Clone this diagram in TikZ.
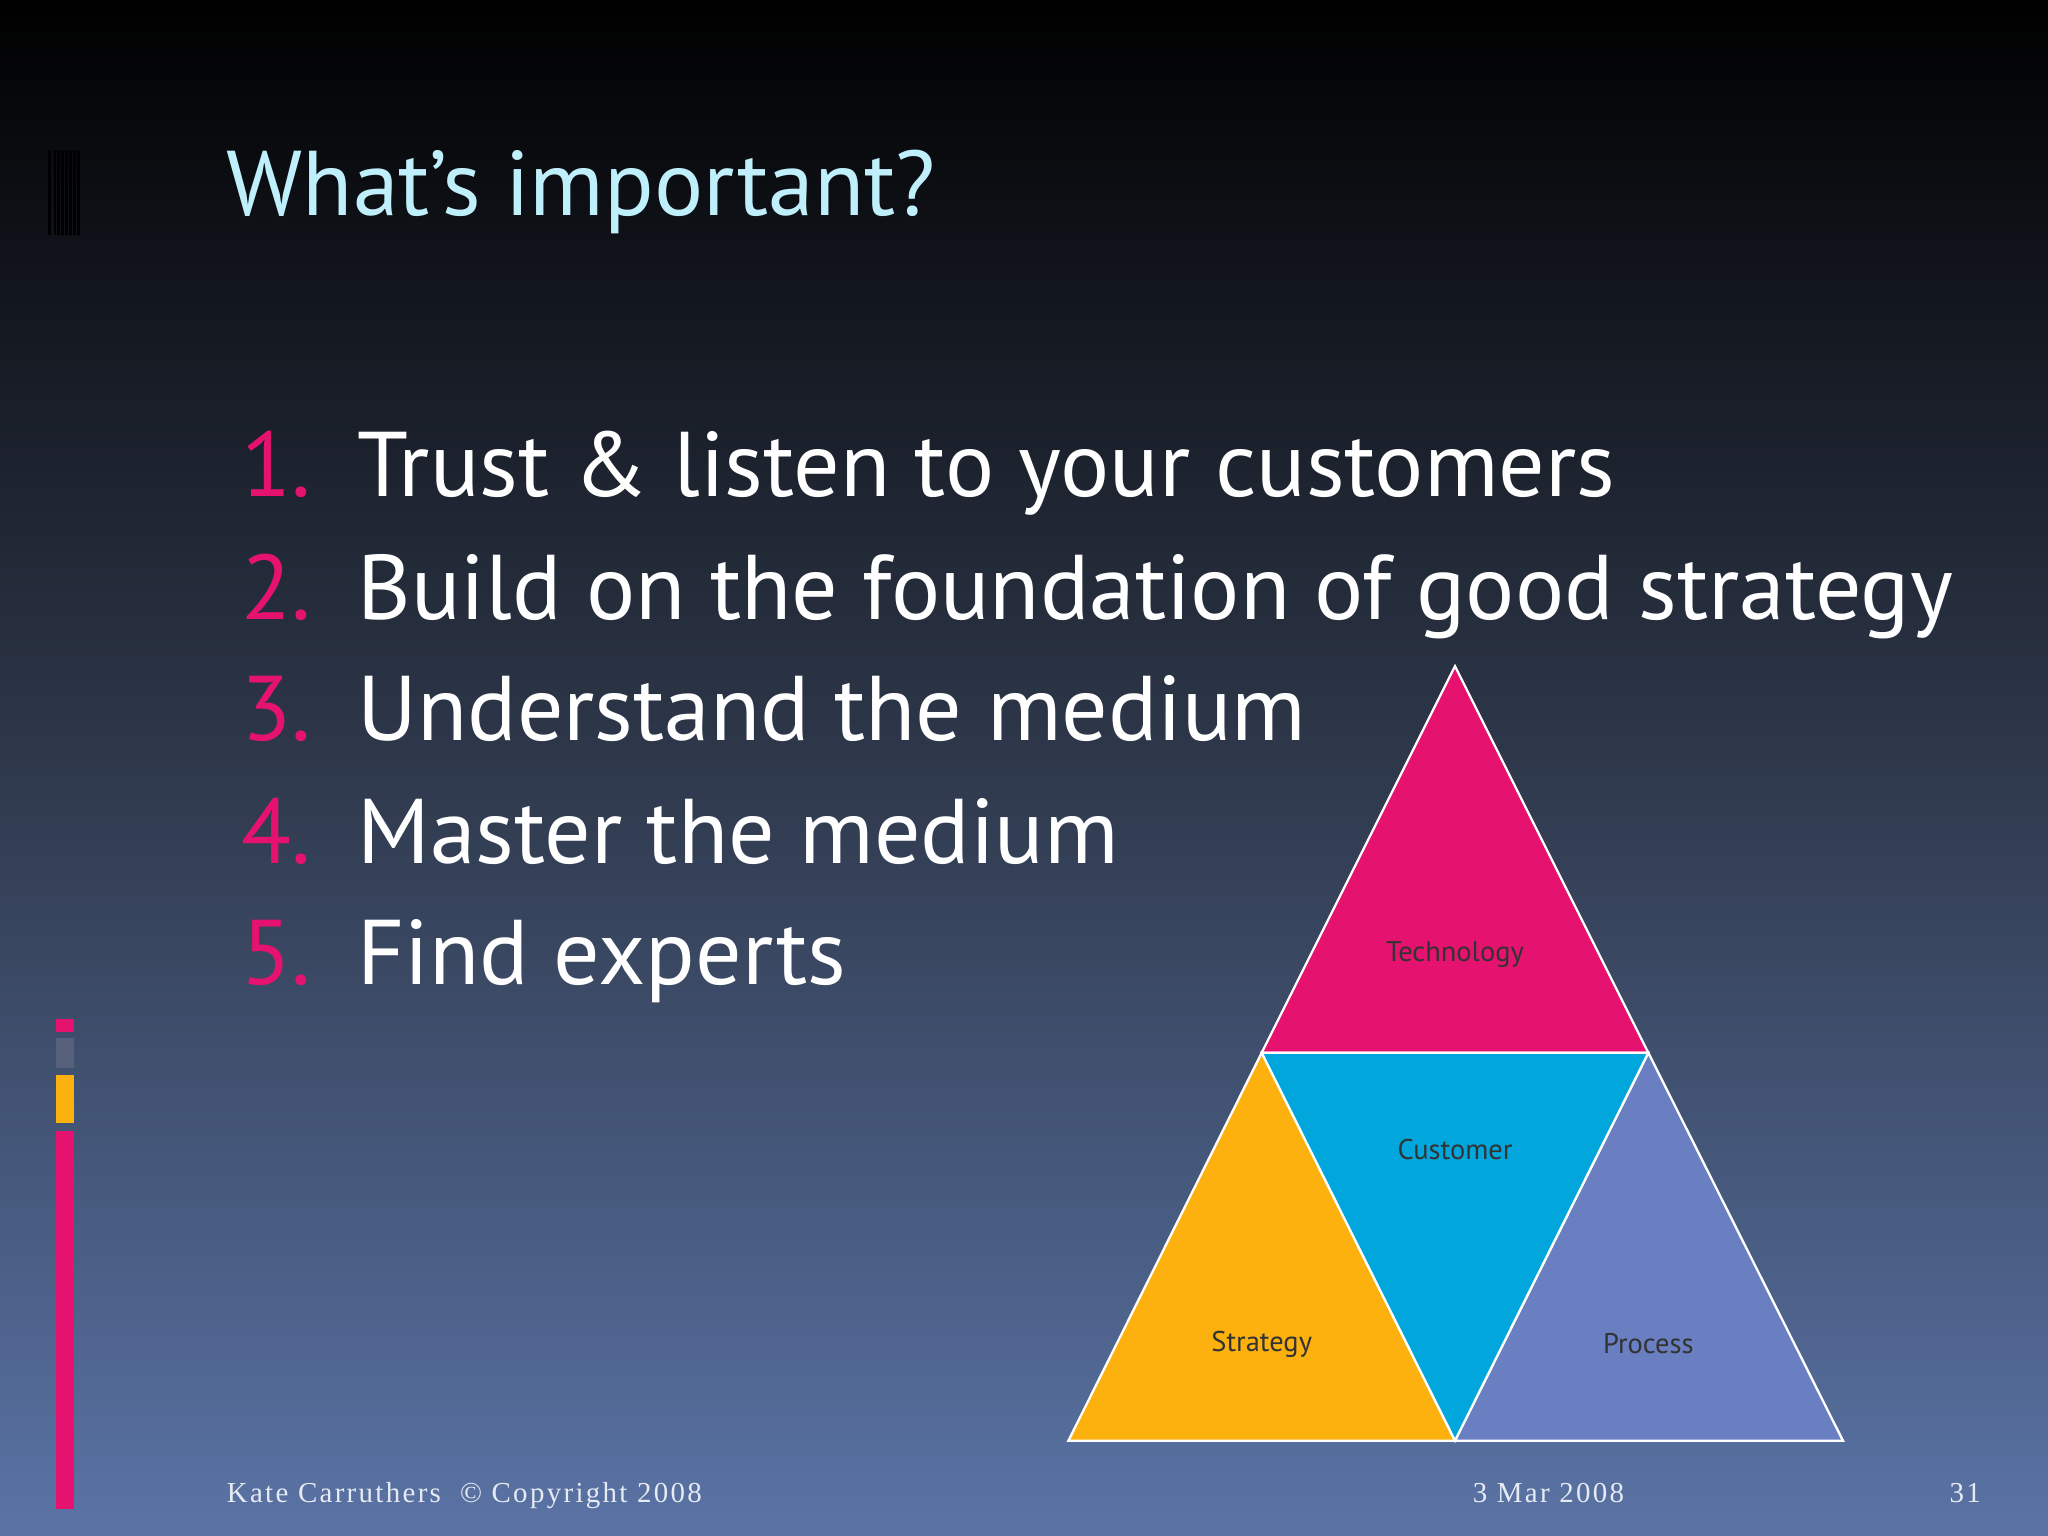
\documentclass[tikz,border=0pt]{standalone}
\usepackage{fontspec}
\setmainfont{PT Sans}
\newfontfamily\foot[LetterSpace=8]{Liberation Serif}
\definecolor{pk}{HTML}{E5136F}
\definecolor{yl}{HTML}{FDB10F}
\definecolor{cy}{HTML}{01A6DC}
\definecolor{pu}{HTML}{6A7FC2}
\definecolor{ttl}{HTML}{BFEFFA}
\definecolor{bot}{HTML}{5A74A6}
\definecolor{gy}{HTML}{56607A}
\tikzset{tri/.style={draw=white,line width=0.5pt},
 item/.style={anchor=base west,text=white,font=\fontsize{20}{24}\selectfont,inner sep=0},
 num/.style={anchor=base west,text=pk,font=\fontsize{20}{24}\selectfont,inner sep=0},
 lbl/.style={font=\fontsize{6.2}{7}\selectfont,text=black!80},
 ft/.style={anchor=base west,text=white!85!bot,font=\foot\fontsize{6.3}{7}\selectfont,inner sep=0}}
\begin{document}
\begin{tikzpicture}[x=0.01cm,y=-0.01cm]
\shade[top color=black,bottom color=bot,middle color=black!60!bot!95] (0,0) rectangle (1568,1176);
\useasboundingbox (0,0) rectangle (1568,1176);
\foreach \x in {37,41,44,47,50,53,56,59}{\fill[black] (\x,115) rectangle +(2,65);}
\fill[pk] (43,780) rectangle (57,790);
\fill[gy] (43,795) rectangle (57,818);
\fill[yl] (43,823) rectangle (57,860);
\fill[pk] (43,866) rectangle (57,1155);
\node[anchor=base west,inner sep=0,text=ttl,font=\fontsize{20}{24}\selectfont] (title) at (173,165) {What’s important?};
\foreach \i/\t/\y in {1/Trust \& listen to your customers/380,2/Build on the foundation of good strategy/474,3/Understand the medium/567,4/Master the medium/661,5/Find experts/754}{
 \node[num] (n\i) at (184,\y) {\i.};
 \node[item] (t\i) at (273,\y) {\t};}
\coordinate (A) at (1114,510); \coordinate (L) at (818,1103); \coordinate (R) at (1411,1103);
\coordinate (ML) at (966,806); \coordinate (MR) at (1262,806); \coordinate (MB) at (1114,1103);
\filldraw[tri,fill=pk] (A)--(ML)--(MR)--cycle;
\filldraw[tri,fill=yl] (ML)--(L)--(MB)--cycle;
\filldraw[tri,fill=pu] (MR)--(MB)--(R)--cycle;
\filldraw[tri,fill=cy] (ML)--(MR)--(MB)--cycle;
\node[lbl] (tech) at (1114,731) {Technology};
\node[lbl] (cust) at (1114,880) {Customer};
\node[lbl] (strat) at (966,1029) {Strategy};
\node[lbl] (proc) at (1262,1029) {Process};
\node[ft] (f1) at (173,1150) {Kate Carruthers \ \textcopyright\ Copyright 2008};
\node[ft] (f2) at (1127,1150) {3 Mar 2008};
\node[ft] (f3) at (1492,1150) {31};
\end{tikzpicture}
\end{document}
